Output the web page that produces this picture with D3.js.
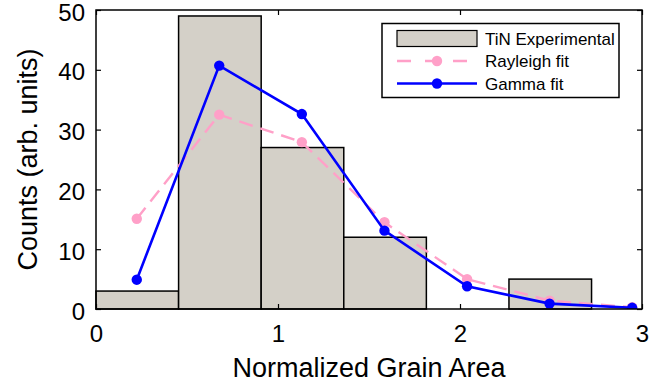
<!DOCTYPE html>
<html>
<head>
<meta charset="utf-8">
<script src="https://cdn.jsdelivr.net/npm/d3@7"></script>
<style>
  body { margin: 0; background: #fff; }
  svg { display: block; font-family: "Liberation Sans", Arial, sans-serif; }
</style>
</head>
<body>
<svg id="chart" width="667" height="388"></svg>
<script>
// histogram bins (left edges) and counts
const binWidth = 0.4538;
const binStarts = [0, 0.4538, 0.9076, 1.3614, 1.8152, 2.269, 2.7228];
const counts = [3, 49, 27, 12, 0, 5, 0];
// fit curves evaluated at bin centres
const fitX = [0.224, 0.677, 1.131, 1.585, 2.039, 2.492, 2.946];
const rayleigh = [15.1, 32.5, 27.9, 14.5, 5.0, 1.4, 0.3];
const gamma = [4.9, 40.7, 32.6, 13.1, 3.8, 0.9, 0.2];
const xTicks = [0, 1, 2, 3];
const yTicks = [0, 10, 20, 30, 40, 50];

const margin = { left: 96, right: 25, top: 10, bottom: 79 };
const W = 667, H = 388;
const svg = d3.select("#chart");
const x = d3.scaleLinear().domain([0, 3]).range([margin.left, W - margin.right]);
const y = d3.scaleLinear().domain([0, 50]).range([H - margin.bottom, margin.top]);

const barFill = "#d4d0c8", pink = "#ffa0c8", blue = "#0000ff";

// bars
svg.append("g").selectAll("rect")
  .data(binStarts.map((s, i) => ({ s, c: counts[i] })).filter(d => d.c > 0))
  .join("rect")
  .attr("x", d => x(d.s))
  .attr("y", d => y(d.c))
  .attr("width", d => x(d.s + binWidth) - x(d.s))
  .attr("height", d => y(0) - y(d.c))
  .attr("fill", barFill).attr("stroke", "#000").attr("stroke-width", 1.5);

// clip for lines
svg.append("clipPath").attr("id", "plotclip").append("rect")
  .attr("x", x(0)).attr("y", y(50)).attr("width", x(3) - x(0)).attr("height", y(0) - y(50));

const line = d3.line().x((d, i) => x(fitX[i])).y(d => y(d));
const plot = svg.append("g").attr("clip-path", "url(#plotclip)");

plot.append("path").datum(rayleigh).attr("d", line)
  .attr("fill", "none").attr("stroke", pink).attr("stroke-width", 2.4).attr("stroke-dasharray", "14,8");
plot.selectAll(".rp").data(rayleigh).join("circle").attr("class", "rp")
  .attr("cx", (d, i) => x(fitX[i])).attr("cy", d => y(d)).attr("r", 5.2).attr("fill", pink);

plot.append("path").datum(gamma).attr("d", line)
  .attr("fill", "none").attr("stroke", blue).attr("stroke-width", 2.6);
plot.selectAll(".gp").data(gamma).join("circle").attr("class", "gp")
  .attr("cx", (d, i) => x(fitX[i])).attr("cy", d => y(d)).attr("r", 5.2).attr("fill", blue);

// axes with inward ticks
const tickSize = 5;
const tickFont = 24;
const labelFont = 27;
const xAxisB = svg.append("g").attr("transform", `translate(0,${y(0)})`)
  .call(d3.axisBottom(x).tickValues(xTicks).tickSizeInner(-tickSize).tickSizeOuter(0).tickPadding(16).tickFormat(d3.format("d")));
const xAxisT = svg.append("g").attr("transform", `translate(0,${y(50)})`)
  .call(d3.axisTop(x).tickValues(xTicks).tickSizeInner(-tickSize).tickSizeOuter(0).tickFormat(""));
const yAxisL = svg.append("g").attr("transform", `translate(${x(0)},0)`)
  .call(d3.axisLeft(y).tickValues(yTicks).tickSizeInner(-tickSize).tickSizeOuter(0).tickPadding(11).tickFormat(d3.format("d")));
const yAxisR = svg.append("g").attr("transform", `translate(${x(3)},0)`)
  .call(d3.axisRight(y).tickValues(yTicks).tickSizeInner(-tickSize).tickSizeOuter(0).tickFormat(""));
[xAxisB, xAxisT, yAxisL, yAxisR].forEach(g => {
  g.select(".domain").remove();
  g.selectAll(".tick line").attr("stroke", "#000").attr("stroke-width", 1.2);
  g.selectAll("text").attr("font-size", tickFont).attr("fill", "#000").attr("font-family", "Liberation Sans, Arial, sans-serif");
});
yAxisL.selectAll("text").attr("dy", "0.42em");

// frame
svg.append("rect").attr("x", x(0)).attr("y", y(50)).attr("width", x(3) - x(0)).attr("height", y(0) - y(50))
  .attr("fill", "none").attr("stroke", "#000").attr("stroke-width", 1.5);

// axis labels
svg.append("text").attr("x", (x(0) + x(3)) / 2).attr("y", 377).attr("text-anchor", "middle")
  .attr("font-size", labelFont).text("Normalized Grain Area");
svg.append("text").attr("transform", `translate(37,${(y(0) + y(50)) / 2}) rotate(-90)`)
  .attr("text-anchor", "middle").attr("font-size", labelFont).text("Counts (arb. units)");

// legend
const lg = svg.append("g");
lg.append("rect").attr("x", 382).attr("y", 23.5).attr("width", 237).attr("height", 74)
  .attr("fill", "#fff").attr("stroke", "#000").attr("stroke-width", 1.5);
const legendItems = ["TiN Experimental", "Rayleigh fit", "Gamma fit"];
const rowY = d3.scalePoint().domain(legendItems).range([38.5, 83.5]);
lg.append("rect").attr("x", 397).attr("y", rowY(legendItems[0]) - 8).attr("width", 80).attr("height", 16)
  .attr("fill", barFill).attr("stroke", "#000").attr("stroke-width", 1.2);
lg.append("line").attr("x1", 397).attr("x2", 477).attr("y1", rowY(legendItems[1])).attr("y2", rowY(legendItems[1]))
  .attr("stroke", pink).attr("stroke-width", 2.4).attr("stroke-dasharray", "14,14");
lg.append("circle").attr("cx", 437).attr("cy", rowY(legendItems[1])).attr("r", 5.2).attr("fill", pink);
lg.append("line").attr("x1", 397).attr("x2", 477).attr("y1", rowY(legendItems[2])).attr("y2", rowY(legendItems[2]))
  .attr("stroke", blue).attr("stroke-width", 2.6);
lg.append("circle").attr("cx", 437).attr("cy", rowY(legendItems[2])).attr("r", 5.2).attr("fill", blue);
lg.selectAll("text.lt").data(legendItems).join("text").attr("class", "lt")
  .attr("x", 485).attr("y", d => rowY(d)).attr("dy", "0.36em").attr("font-size", 17).text(d => d);
</script>
</body>
</html>
